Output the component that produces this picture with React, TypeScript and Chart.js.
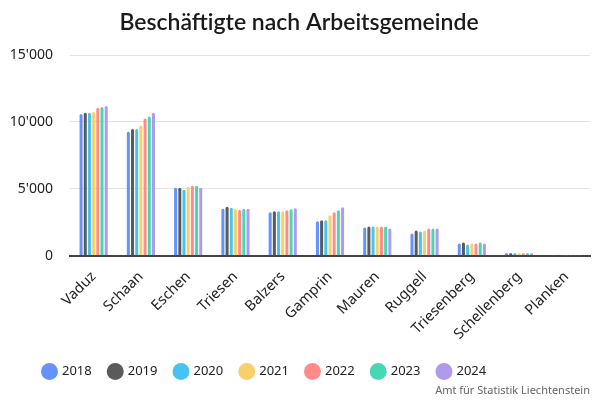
import React, { useEffect, useRef } from 'react';
import Chart from 'chart.js/auto';
import { ChartConfiguration, Plugin } from 'chart.js';

const municipalities = [
  'Vaduz',
  'Schaan',
  'Eschen',
  'Triesen',
  'Balzers',
  'Gamprin',
  'Mauren',
  'Ruggell',
  'Triesenberg',
  'Schellenberg',
  'Planken',
];

const years = ['2018', '2019', '2020', '2021', '2022', '2023', '2024'];

const yearColors = [
  '#6592fb',
  '#5a5a5a',
  '#47c3f1',
  '#f6d06c',
  '#ff8c8a',
  '#47d7b4',
  '#b19ae9',
];

// employees per municipality, one array per year
const values2018 = [10600, 9260, 5080, 3510, 3240, 2560, 2110, 1660, 905, 170, 20];
const values2019 = [10680, 9480, 5080, 3660, 3320, 2640, 2180, 1880, 980, 175, 20];
const values2020 = [10680, 9480, 4930, 3580, 3320, 2640, 2180, 1810, 830, 170, 20];
const values2021 = [10750, 9730, 5150, 3510, 3320, 3010, 2180, 1880, 905, 170, 20];
const values2022 = [11070, 10250, 5230, 3430, 3390, 3240, 2180, 2030, 905, 175, 20];
const values2023 = [11120, 10400, 5230, 3510, 3460, 3390, 2180, 2030, 980, 175, 20];
const values2024 = [11200, 10680, 5080, 3510, 3540, 3610, 2030, 2030, 905, 175, 20];

const seriesValues = [
  values2018,
  values2019,
  values2020,
  values2021,
  values2022,
  values2023,
  values2024,
];

const yTicks = [0, 5000, 10000, 15000];

const formatNumber = (v: number) =>
  String(v).replace(/\B(?=(\d{3})+(?!\d))/g, "'");

// the legend in the original sits a little right of the left edge
const legendShift: Plugin = {
  id: 'legendShift',
  afterLayout: (chart) => {
    if (chart.legend) {
      chart.legend.left += 18;
      chart.legend.right += 18;
    }
  },
};

const App: React.FC = () => {
  const chartRef = useRef<HTMLCanvasElement>(null);
  const chartInstance = useRef<Chart | null>(null);

  useEffect(() => {
    if (!chartRef.current) return;
    const ctx = chartRef.current.getContext('2d');
    if (!ctx) return;

    const config: ChartConfiguration = {
      type: 'bar',
      data: {
        labels: municipalities,
        datasets: years.map((year, i) => ({
          label: year,
          data: seriesValues[i],
          backgroundColor: yearColors[i],
          borderRadius: 1.5,
          borderSkipped: 'bottom',
          categoryPercentage: 0.62,
          barPercentage: 0.72,
        })),
      },
      options: {
        responsive: false,
        animation: false,
        layout: {
          padding: { left: 8, right: 10, top: 4, bottom: 12 },
        },
        plugins: {
          title: {
            display: true,
            text: 'Beschäftigte nach Arbeitsgemeinde',
            color: '#1a1a1a',
            font: { family: 'Lato', size: 23, weight: 600 },
            padding: { top: 5, bottom: 18.5 },
          },
          legend: {
            position: 'bottom',
            align: 'start',
            labels: {
              usePointStyle: true,
              pointStyle: 'circle',
              boxWidth: 12,
              boxHeight: 12,
              padding: 17.5,
              color: '#222',
              font: { family: 'Noto Sans', size: 13 },
            },
          },
          tooltip: { enabled: false },
        },
        scales: {
          x: {
            grid: { display: false },
            border: { color: '#444', width: 2 },
            afterFit: (scale) => {
              scale.paddingLeft = 0;
              scale.paddingRight = 0;
            },
            ticks: {
              color: '#222',
              minRotation: 45,
              maxRotation: 45,
              padding: 4.5,
              font: { family: 'Noto Sans', size: 14.5 },
            },
          },
          y: {
            min: 0,
            max: 15000,
            afterBuildTicks: (axis) => {
              axis.ticks = yTicks.map((value) => ({ value }));
            },
            afterFit: (axis) => {
              axis.width = 62;
            },
            grid: { color: '#e3e3e3', drawTicks: false, lineWidth: 1 },
            border: { display: false },
            ticks: {
              color: '#222',
              padding: 17,
              font: { family: 'Noto Sans', size: 14 },
              callback: (value) => formatNumber(Number(value)),
            },
          },
        },
      },
      plugins: [legendShift],
    };

    chartInstance.current = new Chart(ctx, config);

    return () => {
      if (chartInstance.current) {
        chartInstance.current.destroy();
        chartInstance.current = null;
      }
    };
  }, []);

  return (
    <div
      style={{
        position: 'absolute',
        left: 0,
        top: 0,
        width: 600,
        height: 400,
        background: '#fff',
      }}
    >
      <canvas ref={chartRef} width={600} height={400} />
      <div
        style={{
          position: 'absolute',
          right: 10,
          bottom: 3,
          fontFamily: 'Noto Sans',
          fontSize: 11,
          color: '#666',
        }}
      >
        Amt für Statistik Liechtenstein
      </div>
    </div>
  );
};

export default App;
